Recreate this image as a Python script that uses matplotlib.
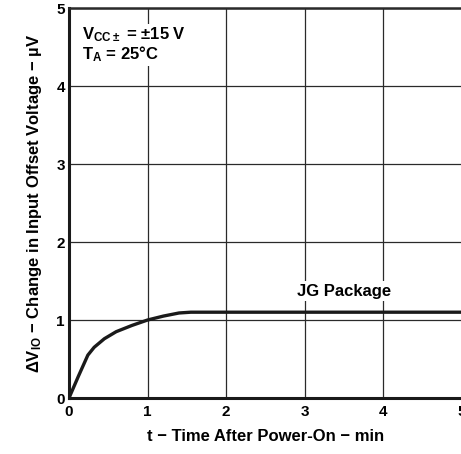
import matplotlib
matplotlib.use('Agg')
import matplotlib.pyplot as plt

plt.rcParams['font.family'] = ['Liberation Sans', 'DejaVu Sans']
plt.rcParams['font.weight'] = 'bold'
plt.rcParams['mathtext.default'] = 'regular'

# curve
t_min = [0, 0.12, 0.24, 0.32, 0.45, 0.6, 0.8, 1.0, 1.2, 1.4, 1.55, 5.0]
dvio = [0, 0.28, 0.55, 0.65, 0.76, 0.85, 0.93, 1.0, 1.05, 1.09, 1.1, 1.1]
x_ticks = [0, 1, 2, 3, 4, 5]
y_ticks = [0, 1, 2, 3, 4, 5]

fig = plt.figure(figsize=(4.61, 4.54), dpi=100)
ax = fig.add_axes([69 / 461, 56 / 454, 393 / 461, 390 / 454])

ax.set_xlim(0, 5)
ax.set_ylim(0, 5)
ax.set_xticks(x_ticks)
ax.set_yticks(y_ticks)
ax.tick_params(length=0, labelsize=11, pad=3)
ax.tick_params(axis='x', pad=5)
ax.grid(True, color='#2a2a2a', linewidth=0.9)
ax.set_axisbelow(True)

for s in ['left', 'bottom']:
    ax.spines[s].set_linewidth(2.2)
    ax.spines[s].set_color('#1a1a1a')
ax.spines['top'].set_linewidth(1.8)
ax.spines['top'].set_color('#2a2a2a')
ax.spines['right'].set_visible(False)

ax.plot(t_min, dvio, color='#1a1a1a', linewidth=2.4, solid_capstyle='butt')

ax.text(0.17, 4.53, 'V$_{CC\\pm}$ = ±15 V\nT$_A$ = 25°C', fontsize=12,
        fontweight='bold', va='center', linespacing=1.05,
        bbox=dict(facecolor='white', edgecolor='none', pad=1))
ax.text(3.5, 1.37, 'JG Package', fontsize=12, fontweight='bold',
        ha='center', va='center',
        bbox=dict(facecolor='white', edgecolor='none', pad=2))

ax.set_xlabel('t − Time After Power-On − min', fontsize=12, fontweight='bold', labelpad=7)
ax.set_ylabel('ΔV$_{IO}$ − Change in Input Offset Voltage − µV', fontsize=12,
              fontweight='bold', labelpad=9)

fig.savefig('out.png', dpi=100)
